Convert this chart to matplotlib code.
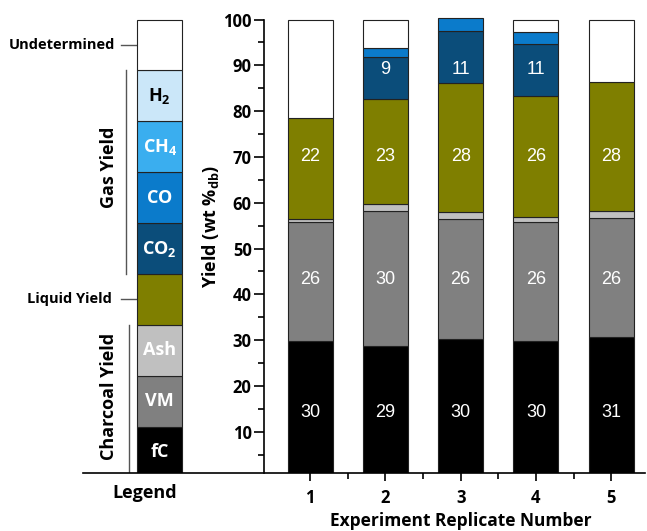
import matplotlib.pyplot as plt
from matplotlib.transforms import blended_transform_factory
import numpy as np

plt.rcParams['font.family'] = ['Open Sans', 'DejaVu Sans']

# ---- yields per replicate (wt %, dry basis) ----
replicates = [1, 2, 3, 4, 5]
fc = [29.8, 28.7, 30.2, 29.9, 30.6]
vm = [25.9, 29.6, 26.2, 26.0, 26.1]
ash = [0.7, 1.4, 1.6, 1.0, 1.5]
liquid = [22.0, 22.9, 28.1, 26.4, 28.2]
co2 = [0.0, 9.3, 11.4, 11.4, 0.0]
co = [0.0, 2.0, 2.8, 2.6, 0.0]
ch4 = [0.0, 0.0, 0.0, 0.0, 0.0]
h2 = [0.0, 0.0, 0.0, 0.0, 0.0]

layer_names = ['fC', 'VM', 'Ash', 'Liquid', 'CO2', 'CO', 'CH4', 'H2', 'Undetermined']
legend_text = ['fC', 'VM', 'Ash', '', r'CO$_{\mathregular{2}}$', 'CO',
               r'CH$_{\mathregular{4}}$', r'H$_{\mathregular{2}}$', '']
labelled = {'fC': fc, 'VM': vm, 'Liquid': liquid, 'CO2': co2}

colors = {'fC': '#000000', 'VM': '#808080', 'Ash': '#c0c0c0', 'Liquid': '#7f7f00',
          'CO2': '#0b4d7a', 'CO': '#0b7bcb', 'CH4': '#3aaeef', 'H2': '#cbe7f9',
          'Undetermined': '#ffffff'}
label_y = {'fC': 14.3, 'VM': 43.3, 'Liquid': 70.0, 'CO2': 89.0}

measured = np.array([fc, vm, ash, liquid, co2, co, ch4, h2])
undetermined = np.clip(100 - measured.sum(axis=0), 0, None)
stack = np.vstack([measured, undetermined])

fig = plt.figure(figsize=(6.47, 5.31), dpi=100)
ax = fig.add_axes([83 / 647, 58.3 / 531, 562 / 647, 457.7 / 531])
ax.set_xlim(-2.02, 5.45)
ax.set_ylim(1.05, 101)

x = np.array(replicates, dtype=float)
bottom = np.zeros(len(x))
bar_w = 0.6
for name, heights in zip(layer_names, stack):
    keep = heights > 0
    ax.bar(x[keep], heights[keep], bar_w, bottom=bottom[keep], color=colors[name],
           edgecolor='#222222', linewidth=0.8, zorder=2)
    if name in labelled:
        for xi, val in zip(x, labelled[name]):
            if val > 0:
                ax.text(xi, label_y[name], f'{val:.0f}', ha='center', va='center',
                        color='white', fontsize=13, family='Liberation Sans', zorder=3)
    bottom += heights

# ---- legend column drawn as its own stacked bar ----
seg = 100 / 9
leg_x = -1.0
for i, (name, txt) in enumerate(zip(layer_names, legend_text)):
    ax.bar(leg_x, seg, bar_w, bottom=i * seg, color=colors[name],
           edgecolor='#222222', linewidth=0.8, zorder=2)
    if txt:
        ax.text(leg_x, i * seg + seg / 2, txt, ha='center', va='center',
                fontsize=13, fontweight='bold',
                color='black' if name == 'H2' else 'white', zorder=3)

line_kw = dict(color='#555555', linewidth=1.0, zorder=1)
ax.plot([-1.513, -1.02], [8.5 * seg, 8.5 * seg], **line_kw)
ax.text(-1.593, 8.5 * seg, 'Undetermined', ha='right', va='center',
        fontsize=10.5, fontweight='bold')
ax.plot([-1.513, -1.01], [3.5 * seg, 3.5 * seg], **line_kw)
ax.text(-1.633, 3.5 * seg, 'Liquid Yield', ha='right', va='center',
        fontsize=10.5, fontweight='bold')

ax.plot([-1.447, -1.447], [4 * seg, 8 * seg], **line_kw)
ax.text(-1.68, 6.1 * seg, 'Gas Yield', rotation=90, ha='center', va='center',
        fontsize=13, fontweight='bold')
ax.plot([-1.407, -1.407], [1.05, 3 * seg], **line_kw)
ax.text(-1.68, 1.6 * seg, 'Charcoal Yield', rotation=90, ha='center', va='center',
        fontsize=13, fontweight='bold')

ax.text(-1.194, -3.4, 'Legend', ha='center', va='center', fontsize=13,
        fontweight='bold', clip_on=False)

# ---- axes styling ----
for side in ['top', 'right']:
    ax.spines[side].set_visible(False)
ax.spines['left'].set_position(('data', 0.388))
ax.spines['left'].set_bounds(1.05, 100)
ax.spines['left'].set_linewidth(1.2)
ax.spines['bottom'].set_linewidth(1.2)

ax.set_yticks(np.arange(10, 101, 10))
ax.set_yticks(np.arange(5, 100, 10), minor=True)
ax.set_xticks(replicates)
ax.set_xticks([1.5, 2.5, 3.5, 4.5], minor=True)
ax.tick_params(which='major', direction='out', length=7, width=1.2,
               labelsize=12, pad=2)
ax.tick_params(which='minor', direction='out', length=4.5, width=1.2)
ax.tick_params(axis='x', which='major', length=6, pad=6)
ax.tick_params(axis='x', which='minor', length=4)
for lab in ax.get_xticklabels() + ax.get_yticklabels():
    lab.set_fontweight('bold')

ax.text(0.226, 0.539, r'Yield (wt %$_{\mathregular{db}}$)', transform=ax.transAxes,
        rotation=90, ha='center', va='center', fontsize=13, fontweight='bold')

trans = blended_transform_factory(ax.transData, fig.transFigure)
ax.text(3.0, 10 / 531, 'Experiment Replicate Number', transform=trans,
        ha='center', va='center', fontsize=12.5, fontweight='bold')

fig.savefig('out.png', dpi=100)
